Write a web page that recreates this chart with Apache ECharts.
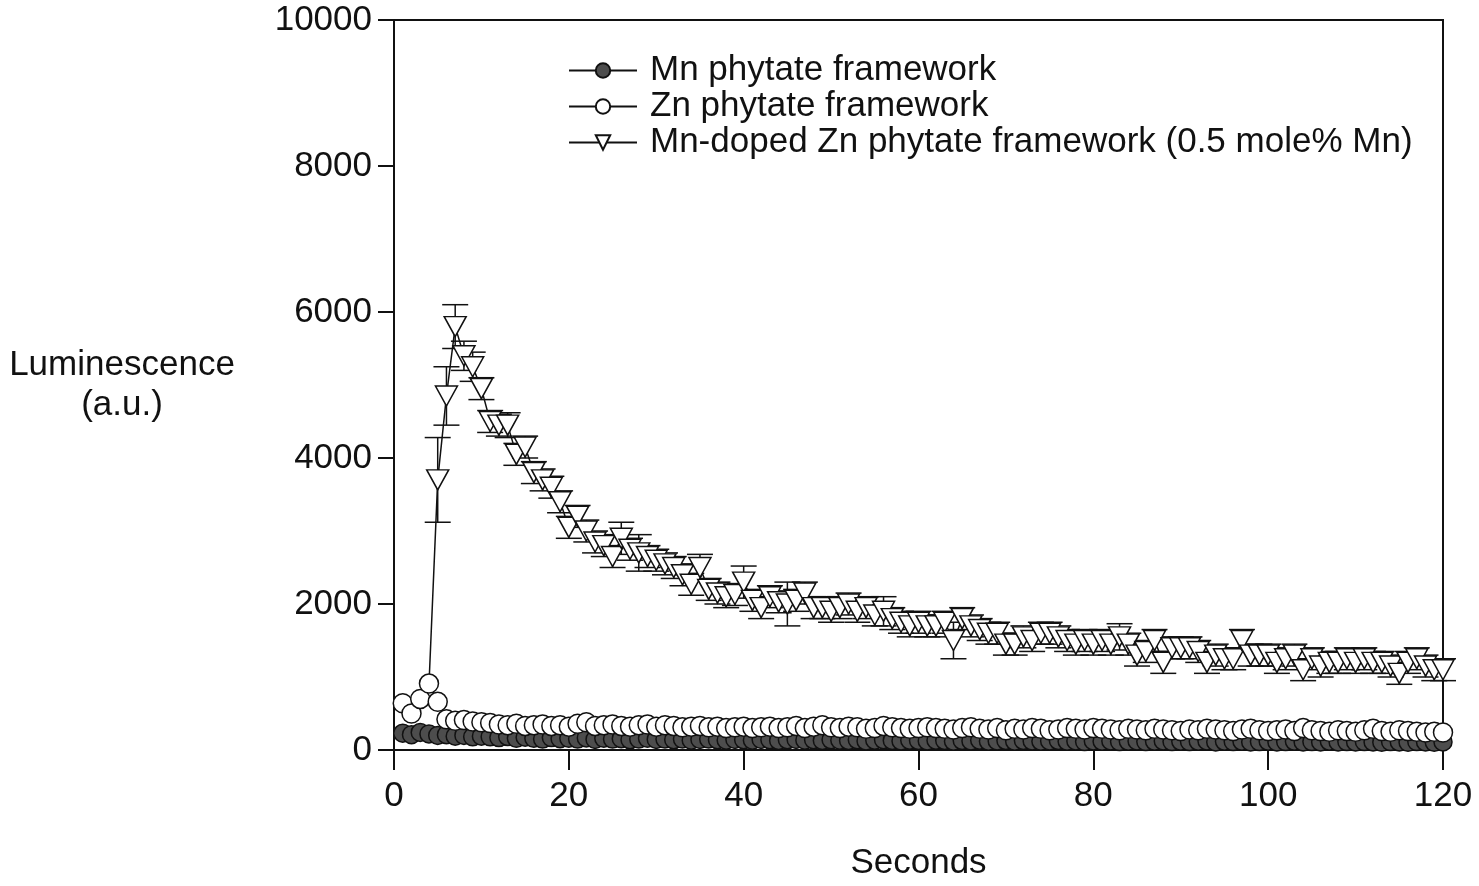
<!DOCTYPE html>
<html>
<head>
<meta charset="utf-8">
<script src="https://cdn.jsdelivr.net/npm/echarts@6/dist/echarts.min.js"></script>
<style>
  html, body { margin: 0; padding: 0; background: #fff; }
  #chart { width: 1479px; height: 886px; }
</style>
</head>
<body>
<div id="chart"></div>
<script>
var seconds = [1,2,3,4,5,6,7,8,9,10,11,12,13,14,15,16,17,18,19,20,
  21,22,23,24,25,26,27,28,29,30,31,32,33,34,35,36,37,38,39,40,
  41,42,43,44,45,46,47,48,49,50,51,52,53,54,55,56,57,58,59,60,
  61,62,63,64,65,66,67,68,69,70,71,72,73,74,75,76,77,78,79,80,
  81,82,83,84,85,86,87,88,89,90,91,92,93,94,95,96,97,98,99,100,
  101,102,103,104,105,106,107,108,109,110,111,112,113,114,115,116,117,118,119,120];

var mnPhytate = [230,210,240,220,200,210,190,200,180,190,
  180,170,185,160,175,160,150,170,155,160,
  150,165,145,160,150,155,140,150,160,145,
  150,140,150,135,145,150,140,135,145,140,
  135,145,140,130,140,145,135,140,130,140,
  135,130,140,125,135,140,130,125,135,130,
  125,135,130,120,130,125,135,120,125,130,
  120,130,125,120,125,130,120,125,115,125,
  120,125,115,120,125,115,120,125,115,120,
  115,120,125,110,120,115,120,110,115,120,
  110,115,120,110,115,110,120,110,115,110,
  115,110,105,115,110,105,115,110,105,110];

var znPhytate = [640,500,700,910,660,420,400,410,390,380,
  370,350,340,360,330,340,350,330,340,320,
  360,380,330,340,350,330,320,340,350,320,
  340,330,310,320,330,310,320,300,310,320,
  300,310,320,300,310,330,300,320,340,310,
  300,320,310,290,300,330,310,300,290,300,
  310,300,290,280,300,310,290,280,300,270,
  290,280,300,290,270,280,300,290,280,300,
  290,280,270,290,280,270,290,280,270,260,
  280,270,290,280,270,260,280,290,270,260,
  270,280,260,300,270,260,250,270,260,250,
  270,290,260,250,270,260,250,240,250,240];

var mnDoped = [630,500,690,890,3700,4850,5800,5400,5250,4950,
  4500,4450,4450,4050,4150,3800,3700,3600,3400,3050,
  3200,3000,2850,2800,2650,2900,2750,2700,2650,2600,
  2550,2500,2400,2270,2500,2200,2150,2100,2130,2300,
  2050,1950,2100,2030,2000,2050,2150,1950,1950,1900,
  1950,2000,1900,1950,1850,1900,1800,1750,1700,1750,
  1700,1700,1750,1500,1800,1700,1650,1600,1600,1450,
  1450,1550,1500,1600,1600,1550,1500,1450,1500,1450,
  1500,1450,1550,1450,1300,1350,1500,1200,1400,1400,
  1400,1350,1200,1300,1250,1250,1500,1300,1300,1300,
  1200,1250,1300,1100,1250,1150,1200,1200,1250,1200,
  1250,1200,1200,1150,1050,1200,1250,1150,1100,1100];

var mnDopedErr = [0,0,0,0,580,400,300,200,200,150,
  150,150,170,150,150,150,150,150,150,150,
  150,150,150,150,150,220,150,250,150,150,
  150,150,150,150,180,150,150,150,150,220,
  150,150,150,150,300,150,150,150,150,150,
  150,150,150,150,150,200,150,150,150,150,
  150,150,150,250,150,150,150,150,150,150,
  150,150,150,150,150,150,150,150,150,150,
  150,150,180,150,150,150,150,150,150,150,
  150,150,150,150,150,150,150,150,150,150,
  150,150,150,150,150,150,150,150,150,150,
  150,150,150,150,150,150,150,150,150,150];

var seriesNames = ['Mn phytate framework', 'Zn phytate framework',
  'Mn-doped Zn phytate framework (0.5 mole% Mn)'];
var xTicks = [0, 20, 40, 60, 80, 100, 120];
var yTicks = [0, 2000, 4000, 6000, 8000, 10000];

function pairs(vals) {
  return seconds.map(function (s, i) { return [s, vals[i]]; });
}

var errData = seconds.map(function (s, i) {
  return [s, mnDoped[i] - mnDopedErr[i], mnDoped[i] + mnDopedErr[i]];
}).filter(function (d) { return d[2] > d[1]; });

var chart = echarts.init(document.getElementById('chart'));
var font = 'Liberation Sans, Arial, sans-serif';
var ink = '#111';
var fs = 35;

var option = {
  animation: false,
  backgroundColor: '#fff',
  textStyle: { fontFamily: font, color: ink },
  grid: {
    left: 394, right: 36, top: 20, bottom: 129,
    show: true, borderColor: ink, borderWidth: 2
  },
  legend: {
    data: seriesNames,
    orient: 'vertical',
    left: 563, top: 48,
    itemWidth: 68, itemHeight: 18, itemGap: 1,
    textStyle: { fontSize: fs, color: ink, fontFamily: font, padding: [0, 0, 0, 8] }
  },
  xAxis: {
    type: 'value', min: xTicks[0], max: xTicks[xTicks.length - 1], interval: 20,
    name: 'Seconds', nameLocation: 'middle', nameGap: 96,
    nameTextStyle: { fontSize: fs, color: ink },
    axisLine: { lineStyle: { color: ink, width: 2 } },
    axisTick: { length: 20, lineStyle: { color: ink, width: 2 } },
    axisLabel: { fontSize: fs, color: ink, margin: 29 },
    splitLine: { show: false }
  },
  yAxis: {
    type: 'value', min: yTicks[0], max: yTicks[yTicks.length - 1], interval: 2000,
    name: 'Luminescence\n(a.u.)', nameLocation: 'middle', nameRotate: 0, nameGap: 272,
    nameTextStyle: { fontSize: fs, color: ink, align: 'center', verticalAlign: 'middle', lineHeight: 40 },
    axisLine: { show: true, lineStyle: { color: ink, width: 2 } },
    axisTick: { show: true, length: 16, lineStyle: { color: ink, width: 2 } },
    axisLabel: { fontSize: fs, color: ink, margin: 22, formatter: function (v) { return String(v); } },
    splitLine: { show: false }
  },
  series: [
    {
      name: 'err', type: 'custom', data: errData, z: 2,
      renderItem: function (params, api) {
        var lo = api.coord([api.value(0), api.value(1)]);
        var hi = api.coord([api.value(0), api.value(2)]);
        var w = 13;
        var st = { stroke: ink, lineWidth: 1.5 };
        return {
          type: 'group',
          children: [
            { type: 'line', shape: { x1: lo[0], y1: lo[1], x2: hi[0], y2: hi[1] }, style: st },
            { type: 'line', shape: { x1: lo[0] - w, y1: lo[1], x2: lo[0] + w, y2: lo[1] }, style: st },
            { type: 'line', shape: { x1: hi[0] - w, y1: hi[1], x2: hi[0] + w, y2: hi[1] }, style: st }
          ]
        };
      }
    },
    {
      name: seriesNames[2], type: 'line', data: pairs(mnDoped), z: 2,
      symbol: 'triangle', symbolRotate: 180, showAllSymbol: true,
      // the first readings sit hidden behind the Zn circles
      symbolSize: function (val, params) {
        return params.dataIndex < 4 ? [12, 11] : [22, 20];
      },
      lineStyle: { color: ink, width: 1.5 },
      itemStyle: { color: '#fff', borderColor: ink, borderWidth: 1.5 }
    },
    {
      name: seriesNames[0], type: 'line', data: pairs(mnPhytate), z: 3,
      symbol: 'circle', symbolSize: 18, showAllSymbol: true,
      lineStyle: { color: ink, width: 1.5 },
      itemStyle: { color: '#4d4d4d', borderColor: ink, borderWidth: 1.5 }
    },
    {
      name: seriesNames[1], type: 'line', data: pairs(znPhytate), z: 4,
      symbol: 'circle', symbolSize: 19, showAllSymbol: true,
      lineStyle: { color: ink, width: 1.5 },
      itemStyle: { color: '#fff', borderColor: ink, borderWidth: 1.5 }
    }
  ]
};
chart.setOption(option);
</script>
</body>
</html>
